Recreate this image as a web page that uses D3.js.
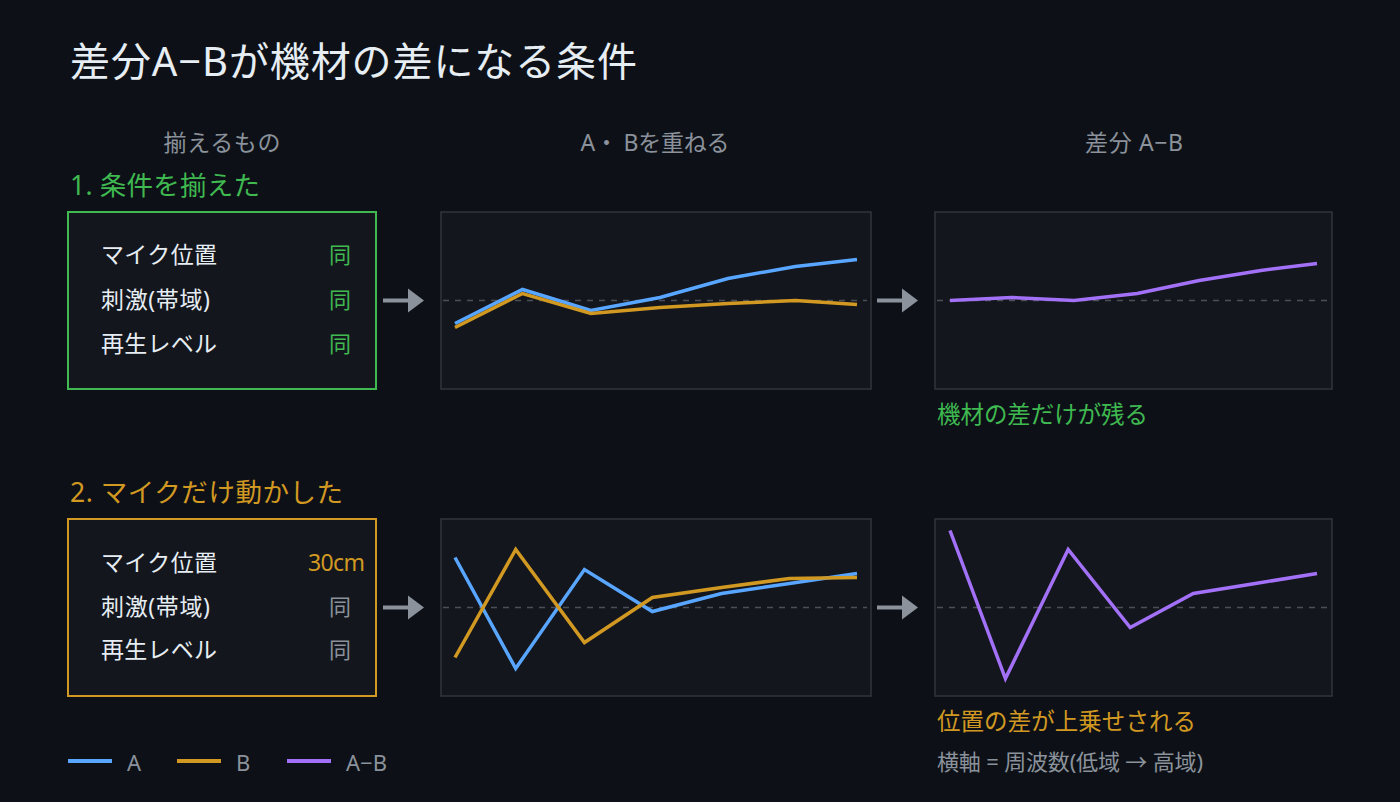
<!DOCTYPE html>
<html><head><meta charset="utf-8">
<script src="https://cdn.jsdelivr.net/npm/d3@7"></script>
<style>
html,body{margin:0;padding:0;background:#0d1117;}
svg{display:block;}
text{font-family:"Noto Sans","Noto Sans CJK JP",sans-serif;}
</style></head>
<body><svg id="c" width="1400" height="802"></svg>
<script>
// ---- data ----
// 横軸: 周波数 低域→高域 (band positions, 0 = lowest, 1 = highest)
const row1Pos  = [0, 0.168, 0.338, 0.51, 0.679, 0.847, 1];
const row2Pos  = [0, 0.151, 0.322, 0.491, 0.663, 0.832, 1];
const row1A    = [-23, 11, -10, 3, 22, 34, 41];
const row1B    = [-27, 7, -13, -7, -3, 0, -4];
const row1Diff = [0, 3, 0, 7, 20, 30, 37];
const row2A    = [50, -61, 38, -4, 14, 24, 34];
const row2B    = [-50, 58, -35, 10, 20, 29, 30];
const row2Diff = [77, -71, 58, -20, 14, 24, 34];
const conditionLabels = ["マイク位置", "刺激(帯域)", "再生レベル"];
const row1Values = ["同", "同", "同"];
const row2Values = ["30cm", "同", "同"];
const rowTitles = ["1. 条件を揃えた", "2. マイクだけ動かした"];
const rowCaptions = ["機材の差だけが残る", "位置の差が上乗せされる"];
const columnHeads = ["揃えるもの", "A・ Bを重ねる", "差分 A−B"];
const legendNames = ["A", "B", "A−B"];

const C = {bg:"#0d1117", panel:"#13161d", border:"#30353d", dash:"#4b5058",
  text:"#e6edf3", muted:"#8b929b", A:"#58a6ff", B:"#d29922", D:"#a371f7", green:"#3fb950"};

const svg = d3.select("#c");
svg.append("rect").attr("width",1400).attr("height",802).attr("fill",C.bg);

function txt(g, s, x, y, size, color, opts={}) {
  const t = g.append("text").attr("x",x).attr("y",y).attr("font-size",size)
    .attr("fill",color).attr("dominant-baseline","central")
    .attr("text-anchor", opts.anchor || "start").text(s);
  if (opts.w) t.attr("textLength", opts.w).attr("lengthAdjust","spacing");
  return t;
}

// title
txt(svg, "差分A−Bが機材の差になる条件", 70, 60, 40, C.text, {w:567});
// column heads
txt(svg, columnHeads[0], 222, 142, 23, C.muted, {anchor:"middle", w:117});
txt(svg, columnHeads[1], 655, 142, 23, C.muted, {anchor:"middle", w:149});
txt(svg, columnHeads[2], 1134, 142, 23, C.muted, {anchor:"middle", w:98});

const rows = [
  {top:212, pos:row1Pos, A:row1A, B:row1B, D:row1Diff, color:C.green, values:row1Values,
   valColors:[C.green,C.green,C.green], titleW:190, capW:211, rowYs:[254,299,343]},
  {top:519, pos:row2Pos, A:row2A, B:row2B, D:row2Diff, color:C.B, values:row2Values,
   valColors:[C.B,C.muted,C.muted], titleW:273, capW:259, rowYs:[562,606,649]}
];
const H = 177;
const labelW = [116, 109, 116];

function arrow(g, x0, y) {
  g.append("line").attr("x1",x0).attr("x2",x0+27).attr("y1",y).attr("y2",y)
    .attr("stroke",C.muted).attr("stroke-width",4);
  g.append("path").attr("d",`M${x0+25},${y-12}L${x0+41},${y}L${x0+25},${y+12}Z`).attr("fill",C.muted);
}

rows.forEach((r, i) => {
  const g = svg.append("g");
  txt(g, rowTitles[i], 70, r.top - 27, 26.5, r.color, {w:r.titleW});
  g.append("rect").attr("x",68).attr("y",r.top).attr("width",308).attr("height",H)
    .attr("fill",C.panel).attr("stroke",r.color).attr("stroke-width",2);
  conditionLabels.forEach((l, j) => {
    txt(g, l, 101, r.rowYs[j], 23, C.text, {w:labelW[j]});
    const v = r.values[j];
    if (v === "同") txt(g, v, 340, r.rowYs[j], 22, r.valColors[j], {anchor:"middle"});
    else txt(g, v, 365, r.rowYs[j], 23, r.valColors[j], {anchor:"end", w:57});
  });
  const cy = r.top + H/2;
  arrow(g, 383, cy);
  arrow(g, 877, cy);

  const y = d3.scaleLinear().domain([-88.5, 88.5]).range([r.top + H, r.top]);
  const panels = [
    {x:441, w:430, xr:[455, 857], series:[[r.A, C.A], [r.B, C.B]]},
    {x:935, w:397, xr:[950, 1317], series:[[r.D, C.D]]}
  ];
  panels.forEach(p => {
    g.append("rect").attr("x",p.x).attr("y",r.top).attr("width",p.w).attr("height",H)
      .attr("fill",C.panel).attr("stroke",C.border).attr("stroke-width",1.5);
    g.append("line").attr("x1",p.x+2).attr("x2",p.x+p.w-4).attr("y1",y(0)).attr("y2",y(0))
      .attr("stroke",C.dash).attr("stroke-width",1.5).attr("stroke-dasharray","6,6");
    const x = d3.scaleLinear().domain([0, 1]).range(p.xr);
    const line = d3.line().x((d, k) => x(r.pos[k])).y(d => y(d));
    p.series.forEach(([vals, col]) => {
      g.append("path").attr("d", line(vals)).attr("fill","none")
        .attr("stroke",col).attr("stroke-width",3.5).attr("stroke-linejoin","miter");
    });
  });
  txt(g, rowCaptions[i], 937, r.top + H + 25, 23.5, r.color, {w:r.capW});
});

txt(svg, "横軸 = 周波数(低域 → 高域)", 937, 761, 22, C.muted, {w:266});

// legend
const lg = svg.append("g");
const legendCols = [C.A, C.B, C.D];
const legendX = [68, 177, 287];
legendNames.forEach((n, i) => {
  lg.append("line").attr("x1",legendX[i]).attr("x2",legendX[i]+44).attr("y1",761).attr("y2",761)
    .attr("stroke",legendCols[i]).attr("stroke-width",4);
  txt(lg, n, legendX[i]+59, 762, 22, C.muted);
});
</script></body></html>
